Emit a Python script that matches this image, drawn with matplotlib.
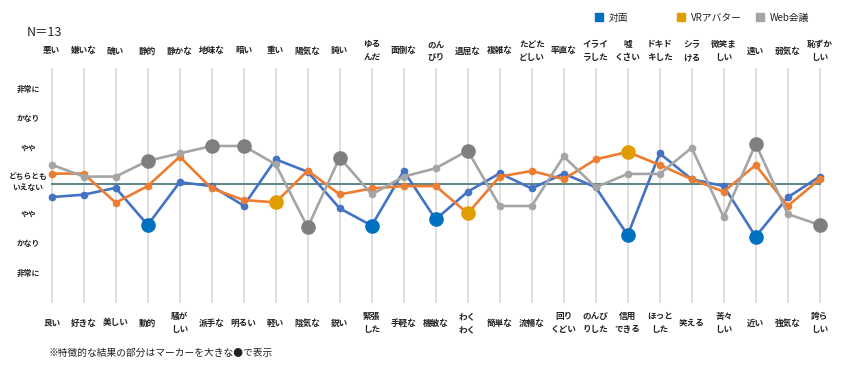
import numpy as np
import matplotlib.pyplot as plt

plt.rcParams['font.family'] = ['Noto Sans CJK JP', 'DejaVu Sans']

# Data
top_labels = ['悪い', '嫌いな', '醜い', '静的', '静かな', '地味な', '暗い', '重い', '陽気な', '鈍い',
              'ゆる\nんだ', '面倒な', 'のん\nびり', '退屈な', '複雑な', 'たどた\nどしい', '率直な',
              'イライ\nラした', '嘘\nくさい', 'ドキド\nキした', 'シラ\nける', '微笑ま\nしい', '遠い',
              '弱気な', '恥ずか\nしい']
bottom_labels = ['良い', '好きな', '美しい', '動的', '騒が\nしい', '派手な', '明るい', '軽い', '陰気な',
                 '鋭い', '緊張\nした', '手軽な', '機敏な', 'わく\nわく', '簡単な', '流暢な', '回り\nくどい',
                 'のんび\nりした', '信用\nできる', 'ほっと\nした', '笑える', '苦々\nしい', '近い',
                 '強気な', '誇ら\nしい']
level_labels = ['非常に', 'かなり', 'やや', 'どちらとも\nいえない', 'やや', 'かなり', '非常に']
level_values = [3, 2, 1, 0, -1, -2, -3]

face = [-0.44, -0.36, -0.13, -1.38, 0.06, -0.07, -0.73, 0.83, 0.41, -0.82, -1.40, 0.44, -1.19,
        -0.26, 0.36, -0.15, 0.35, -0.11, -1.72, 1.03, 0.16, -0.07, -1.77, -0.45, 0.25]
vr = [0.35, 0.35, -0.63, -0.07, 0.92, -0.15, -0.54, -0.62, 0.45, -0.35, -0.15, -0.07, -0.07,
      -0.99, 0.25, 0.44, 0.16, 0.83, 1.08, 0.64, 0.16, -0.26, 0.64, -0.74, 0.16]
web = [0.65, 0.25, 0.25, 0.78, 1.03, 1.28, 1.28, 0.66, -1.46, 0.89, -0.35, 0.25, 0.53, 1.12,
       -0.74, -0.74, 0.93, -0.11, 0.34, 0.34, 1.22, -1.12, 1.35, -1.01, -1.38]

# index of highlighted points
face_big = [3, 10, 12, 18, 22]
vr_big = [7, 13, 18]
web_big = [3, 5, 6, 8, 9, 13, 22, 24]

series = [
    ('対面', face, face_big, '#4472C4', '#0070C0'),
    ('VRアバター', vr, vr_big, '#ED7D31', '#E09C00'),
    ('Web会議', web, web_big, '#A5A5A5', '#7F7F7F'),
]

# pixel -> data helpers (axes fill the whole figure)
x0, dx = 51.7, 32.0
y0, dy = 184.0, 29.7
W, H = 846, 370


def px(x):
    return (x - x0) / dx


def py(y):
    return (y0 - y) / dy


fig = plt.figure(figsize=(W / 100, H / 100), dpi=100)
ax = fig.add_axes([0, 0, 1, 1])
ax.set_xlim(px(0), px(W))
ax.set_ylim(py(H), py(0))
ax.axis('off')

n = len(top_labels)
xs = np.arange(n)

# grid
ax.vlines(xs, py(303), py(68), color='#D9D9D9', linewidth=1.2, zorder=1)
ax.plot([0, n - 1], [0, 0], color='#4F7B7E', linewidth=1.3, zorder=2)

# series
for name, vals, big, lc, bc in series:
    ax.plot(xs, vals, color=lc, linewidth=1.9, marker='o', markersize=4.5, zorder=3)
    bx = np.array(big)
    ax.plot(bx, np.array(vals)[bx], linestyle='none', marker='o', markersize=9.5,
            color=bc, markeredgecolor=bc, zorder=4)

# category labels
for i in range(n):
    ax.text(i, py(51), top_labels[i], ha='center', va='center', fontsize=6.2,
            fontweight='bold', linespacing=1.6, color='#222222')
    ax.text(i, py(323), bottom_labels[i], ha='center', va='center', fontsize=6.2,
            fontweight='bold', linespacing=1.6, color='#222222')

# level labels
for lab, v in zip(level_labels, level_values):
    yy = v + 0.2 if v > 0 else v
    ax.text(px(28), yy + (0.05 if v == 0 else 0), lab, ha='center', va='center', fontsize=5.6,
            fontweight='bold', linespacing=1.15, color='#222222')

# N and legend
ax.text(px(27), py(32), 'N＝13', ha='left', va='center', fontsize=9, color='#222222')
leg_x = [599, 681, 760]
for (name, vals, big, lc, bc), lx in zip(series, leg_x):
    sq = bc if name != 'Web会議' else lc
    ax.plot(px(lx), py(17), marker='s', markersize=6, color=sq, linestyle='none')
    ax.text(px(lx + 10), py(18), name, ha='left', va='center', fontsize=7, color='#222222')

# footnote
ax.text(px(49), py(353), '※特徴的な結果の部分はマーカーを大きな●で表示', ha='left', va='center',
        fontsize=7, color='#222222')

fig.savefig('out.png', dpi=100)
